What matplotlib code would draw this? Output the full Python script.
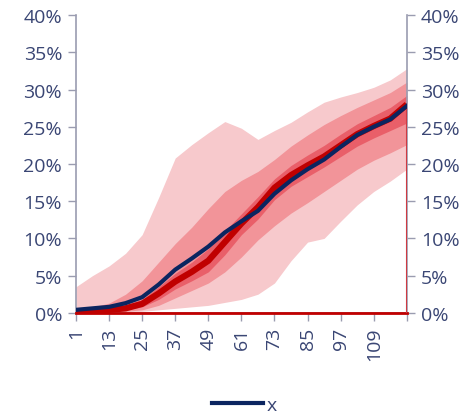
import matplotlib
matplotlib.use("Agg")
import matplotlib.pyplot as plt
from matplotlib.ticker import FuncFormatter

plt.rcParams['font.family'] = ['Open Sans', 'DejaVu Sans']

x = [1, 7, 13, 19, 25, 31, 37, 43, 49, 55, 61, 67, 73, 79, 85, 91, 97, 103, 109, 115, 121]

# fan bands (%)
light_lo = [0.0, 0.0, 0.05, 0.1, 0.2, 0.4, 0.6, 0.8, 1.0, 1.4, 1.8, 2.5, 4.0, 7.0, 9.5, 10.0, 12.3, 14.5, 16.3, 17.7, 19.3]
light_hi = [3.5, 5.0, 6.3, 8.0, 10.5, 15.5, 20.8, 22.6, 24.2, 25.7, 24.8, 23.3, 24.5, 25.6, 27.0, 28.3, 29.0, 29.6, 30.3, 31.3, 32.8]
mid_lo = [0.0, 0.05, 0.1, 0.2, 0.4, 1.0, 2.0, 3.0, 4.0, 5.5, 7.5, 9.8, 11.7, 13.4, 14.8, 16.3, 17.8, 19.3, 20.5, 21.5, 22.6]
mid_hi = [0.5, 0.8, 1.3, 2.5, 4.3, 6.8, 9.3, 11.5, 14.0, 16.3, 17.8, 19.0, 20.6, 22.4, 23.9, 25.3, 26.5, 27.6, 28.6, 29.6, 31.0]
dark_lo = [0.1, 0.15, 0.25, 0.4, 0.8, 1.8, 3.2, 4.3, 5.5, 7.8, 10.5, 12.6, 15.2, 17.0, 18.3, 19.6, 21.0, 22.4, 23.5, 24.5, 25.5]
dark_hi = [0.3, 0.4, 0.6, 1.0, 1.8, 3.5, 5.3, 6.8, 8.6, 11.0, 13.3, 15.6, 18.0, 19.8, 21.2, 22.5, 24.0, 25.4, 26.5, 27.6, 29.2]
median = [0.2, 0.25, 0.4, 0.6, 1.2, 2.6, 4.2, 5.5, 7.0, 9.5, 12.0, 14.2, 16.8, 18.5, 19.8, 21.0, 22.5, 24.0, 25.1, 26.1, 28.0]
series_x = [0.4, 0.6, 0.8, 1.3, 2.1, 3.8, 5.8, 7.3, 8.9, 10.8, 12.3, 13.7, 16.0, 17.8, 19.3, 20.6, 22.3, 23.9, 25.0, 26.0, 27.8]

xticks = [1, 13, 25, 37, 49, 61, 73, 85, 97, 109, 121]
xticklabels = ['1', '13', '25', '37', '49', '61', '73', '85', '97', '109', '']
yticks = [0, 5, 10, 15, 20, 25, 30, 35, 40]

txt = '#3a4674'
grey = '#9a9cb0'
navy = '#0b2560'
red = '#c00000'

fig = plt.figure(figsize=(4.66, 4.14), dpi=100)
ax = fig.add_axes([0.163, 0.242, 0.71, 0.719])

ax.fill_between(x, light_lo, light_hi, color='#f7c9cc', lw=0)
ax.fill_between(x, mid_lo, mid_hi, color='#f29499', lw=0)
ax.fill_between(x, dark_lo, dark_hi, color='#e95f69', lw=0)
ax.plot(x, [0] * len(x), color=red, lw=2, clip_on=False, zorder=4)
ax.vlines(x[-1], 0, median[-1], color='#d03a42', lw=1.5, zorder=4)
ax.plot(x, median, color=red, lw=4.5, solid_capstyle='butt', zorder=5)
ax.plot(x, series_x, color=navy, lw=3, label='x', zorder=6)

ax.set_xlim(1, 121)
ax.set_ylim(0, 40)
ax.set_xticks(xticks)
ax.set_xticklabels(xticklabels, rotation=90)
ax.set_yticks(yticks)
ax.yaxis.set_major_formatter(FuncFormatter(lambda v, p: f'{v:.0f}%'))
ax.tick_params(axis='both', colors=grey, labelcolor=txt, labelsize=14, length=6, width=1)
ax.tick_params(axis='y', right=True, labelright=True, pad=4)
ax.tick_params(axis='x', pad=4)

ax.spines['top'].set_visible(False)
for s in ['left', 'right', 'bottom']:
    ax.spines[s].set_color(grey)
    ax.spines[s].set_linewidth(1.2)

leg = fig.legend(loc='lower center', bbox_to_anchor=(0.525, -0.045), frameon=False,
                 fontsize=14, handlelength=2.6, handletextpad=0.2)
for t in leg.get_texts():
    t.set_color(txt)

fig.savefig('out.png', dpi=100)
